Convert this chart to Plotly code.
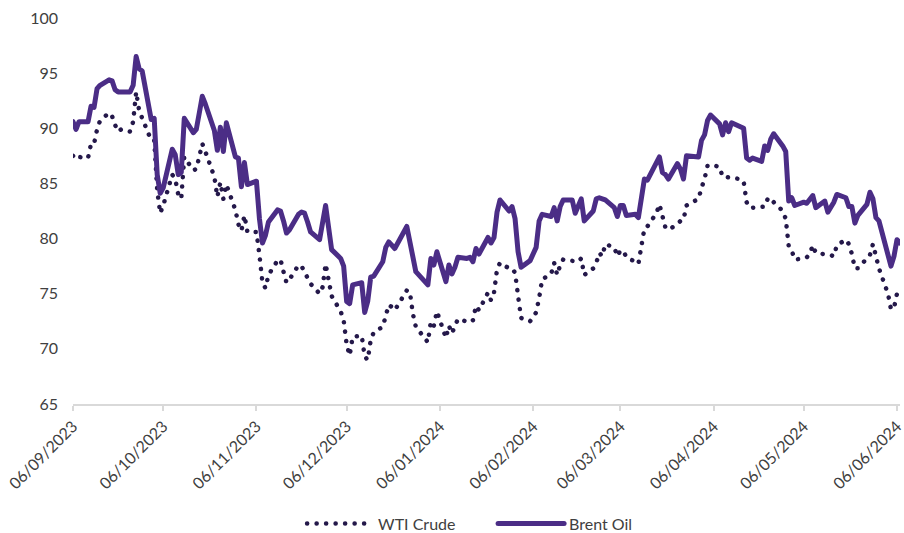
import pandas as pd
import plotly.graph_objects as go

# trading days shown (weekdays, minus days with no settlement for both series)
closed_days = ["2023-12-25", "2024-01-01", "2024-03-29"]
dates = [d for d in pd.bdate_range("2023-09-06", "2024-06-07")
         if d.strftime("%Y-%m-%d") not in closed_days]

brent = [
    # Sep 2023
    90.6, 89.9, 90.6, 90.6, 92.0, 91.9, 93.6, 93.9, 94.4, 94.3, 93.5, 93.3, 93.3, 93.3, 93.9, 96.5, 95.4, 95.2,
    # Oct
    90.8, 90.9, 85.8, 84.1, 84.6, 88.1, 87.6, 85.8, 86.0, 90.9, 89.6, 89.9, 91.4, 92.9, 92.2, 89.8, 88.0, 90.1, 87.9, 90.5, 87.4, 87.3,
    # Nov
    84.7, 86.9, 84.9, 85.2, 81.8, 79.6, 80.3, 81.5, 82.6, 82.5, 81.6, 80.5, 80.8, 82.2, 82.4, 82.3, 81.5, 80.6, 79.9, 81.2, 83.0, 81.0,
    # Dec
    79.0, 78.2, 77.5, 74.3, 74.1, 75.8, 76.0, 73.3, 74.3, 76.5, 76.6, 77.9, 79.2, 79.7, 79.4, 79.1, 81.1, 79.6, 78.3, 77.0,
    # Jan 2024
    75.8, 78.2, 77.6, 78.8, 76.1, 77.6, 76.8, 77.4, 78.3, 78.2, 78.3, 77.9, 79.1, 78.6, 80.1, 79.6, 80.1, 82.4, 83.5, 82.5, 82.9, 81.8,
    # Feb
    78.8, 77.4, 78.0, 78.6, 79.2, 81.6, 82.2, 82.0, 82.8, 81.6, 82.9, 83.5, 83.5, 82.3, 83.0, 83.6, 81.6, 82.5, 83.6, 83.7, 83.6,
    # Mar
    83.5, 82.8, 82.0, 83.0, 83.0, 82.1, 82.2, 81.9, 84.0, 85.4, 85.3, 86.9, 87.4, 86.0, 85.8, 85.4, 86.8, 86.3, 85.4, 87.5,
    # Apr
    87.4, 88.9, 89.4, 90.7, 91.2, 90.4, 89.4, 90.5, 89.7, 90.5, 90.1, 90.0, 87.3, 87.1, 87.3, 87.0, 88.4, 88.0, 89.0, 89.5, 88.4, 87.9,
    # May
    83.4, 83.7, 83.0, 83.3, 83.2, 83.6, 83.9, 82.8, 83.4, 82.4, 82.8, 83.3, 84.0, 83.7, 82.9, 82.9, 81.4, 82.1, 83.1, 84.2, 83.6, 81.9, 81.6,
    # Jun
    78.4, 77.5, 78.4, 79.9, 79.6,
]

wti = [
    # Sep 2023
    87.5, 87.2, 87.4, 87.3, 88.6, 88.6, 89.9, 90.7, 91.4, 91.1, 90.3, 89.7, 89.9, 89.7, 90.6, 93.3, 91.6, 90.9,
    # Oct
    88.9, 88.9, 84.4, 82.3, 83.0, 85.8, 85.4, 84.0, 83.6, 87.4, 86.2, 86.3, 87.6, 88.6, 87.9, 85.6, 83.8, 85.1, 83.6, 84.9, 82.6, 81.3,
    # Nov
    80.7, 82.1, 80.6, 80.6, 78.5, 76.0, 75.5, 76.7, 78.0, 78.1, 77.0, 76.0, 76.3, 77.6, 77.5, 77.0, None, 75.9, 75.0, 75.6, 77.7, 76.2,
    # Dec
    74.8, 73.4, 72.6, 70.4, 69.4, 71.1, 71.2, 69.3, 69.0, 70.8, 71.5, 72.0, 73.0, 74.0, 73.8, 73.5, 75.3, 75.2, 73.2, 72.0,
    # Jan 2024
    70.6, 72.5, 72.1, 73.4, 71.0, 72.1, 71.4, 72.0, 72.7, None, 72.4, 72.6, 73.9, 73.5, 75.1, 74.4, 75.1, 77.2, 77.8, 77.3, 77.3, 76.9,
    # Feb
    74.8, 72.8, 72.5, 72.9, 73.3, 74.6, 76.3, 76.8, 77.8, 76.7, 77.6, 78.1, None, 78.0, 77.9, 78.2, 76.7, 77.3, 77.8, 78.7, 78.4,
    # Mar
    79.5, 79.2, 78.4, 78.9, 78.9, 78.3, 77.9, 77.7, 79.3, 80.9, 81.1, 82.3, 83.1, 81.8, 81.0, 80.8, 81.3, 81.6, 81.7, 83.0,
    # Apr
    83.6, 84.6, 85.4, 86.6, 86.7, 86.5, 85.6, 85.6, 85.5, 85.5, 85.4, 85.2, 83.3, 82.8, 82.8, 82.8, 82.9, 83.6, 83.2, 83.3, 82.5, 81.8,
    # May
    79.3, 78.9, 78.1, 78.2, 78.3, 78.6, 79.4, 78.7, 78.6, 78.6, 78.5, 78.4, 79.4, 79.9, 79.5, 78.6, 77.3, 77.3, None, 78.5, 79.5, 78.2, 77.3,
    # Jun
    75.0, 73.6, 73.7, 75.0, 75.3,
]

tick_dates = ["2023-09-06", "2023-10-06", "2023-11-06", "2023-12-06", "2024-01-06",
              "2024-02-06", "2024-03-06", "2024-04-06", "2024-05-06", "2024-06-06"]
tick_text = ["06/09/2023", "06/10/2023", "06/11/2023", "06/12/2023", "06/01/2024",
             "06/02/2024", "06/03/2024", "06/04/2024", "06/05/2024", "06/06/2024"]

FONT = "Lato, 'Open Sans', sans-serif"
TXT = "#404040"

fig = go.Figure()
fig.add_trace(go.Scatter(
    x=dates, y=wti, name="WTI Crude", mode="lines", connectgaps=True,
    line=dict(color="#24184a", width=4.5, dash="0.1px,9.4px"),
))
fig.add_trace(go.Scatter(
    x=dates, y=brent, name="Brent Oil", mode="lines",
    line=dict(color="#4b2d86", width=5),
))

fig.update_layout(
    width=904, height=533,
    margin=dict(l=73, r=4, t=18, b=129, autoexpand=False),
    paper_bgcolor="white", plot_bgcolor="white",
    font=dict(family=FONT, size=16, color=TXT),
    showlegend=True,
    legend=dict(orientation="h", x=0.277, xanchor="left", y=-0.31, yanchor="middle",
                font=dict(size=16, color=TXT), itemwidth=66, traceorder="normal",
                entrywidth=110, entrywidthmode="pixels"),
    xaxis=dict(
        type="date", range=["2023-09-06", "2024-06-07"], automargin=False,
        tickvals=tick_dates, ticktext=tick_text, tickangle=-45,
        ticklabeloverflow="allow",
        showgrid=False, zeroline=False,
        showline=True, linecolor="#d9d9d9", linewidth=1.5,
        ticks="outside", ticklen=5, tickcolor="#d9d9d9", tickwidth=1.5,
        tickfont=dict(size=16, color=TXT),
    ),
    yaxis=dict(
        range=[65, 100], dtick=5, tick0=65, automargin=False,
        showgrid=False, zeroline=False, showline=False,
        ticks="", ticklabelstandoff=14,
        tickfont=dict(size=16, color=TXT),
    ),
)

post = """
var st=document.createElement('style');
st.textContent='html,body{margin:0;padding:0;overflow:hidden;} .scatterlayer path.js-line, .legendlines path.js-line{stroke-linecap:round !important;stroke-linejoin:round !important;}';
document.head.appendChild(st);
"""
fig.write_html("out.html", post_script=post, config={"displayModeBar": False})
